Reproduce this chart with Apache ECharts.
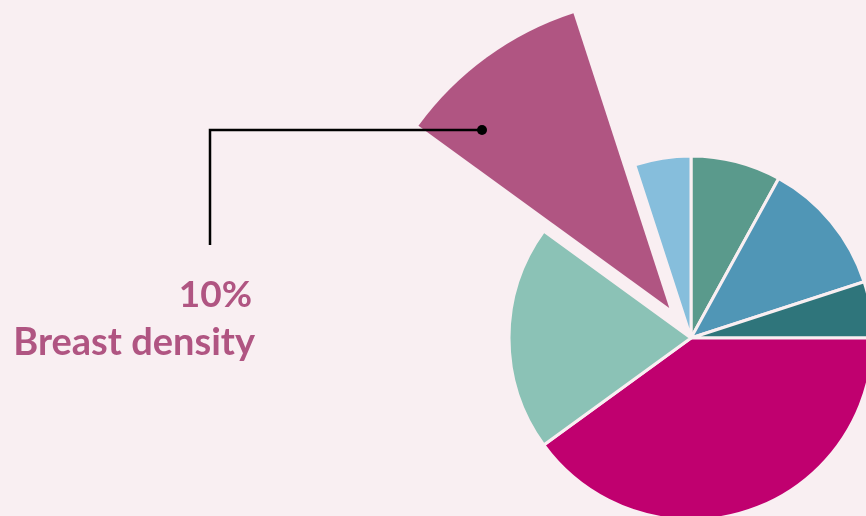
<!DOCTYPE html>
<html>
<head>
<meta charset="utf-8">
<script src="https://cdn.jsdelivr.net/npm/echarts@6/dist/echarts.min.js"></script>
<style>
html,body{margin:0;padding:0;background:#f9eff2;}
#c{width:866px;height:516px;}
</style>
</head>
<body>
<div id="c"></div>
<script>
// Data
const categories = ['Factor A', 'Factor B', 'Factor C', 'Factor D', 'Factor E', 'Breast density', 'Factor G'];
const values = [8, 12, 5, 40, 20, 10, 5];
const colors = ['#5a9a8c', '#5096b6', '#2f757b', '#c0006f', '#8bc2b6', '#b05582', '#86bedc'];
const highlightIndex = 5;

const bg = '#f9eff2';
const chart = echarts.init(document.getElementById('c'), null, {renderer: 'canvas'});

const baseData = categories.map((name, i) => ({
  name,
  value: values[i],
  itemStyle: i === highlightIndex
    ? {color: 'rgba(0,0,0,0)', borderWidth: 0}
    : {color: colors[i], borderColor: bg, borderWidth: 3}
}));

const topData = categories.map((name, i) => ({
  name,
  value: values[i],
  selected: i === highlightIndex,
  itemStyle: i === highlightIndex
    ? {color: colors[i], borderWidth: 0}
    : {color: 'rgba(0,0,0,0)', borderWidth: 0}
}));

const hv = values[highlightIndex];
const hn = categories[highlightIndex];

chart.setOption({
  backgroundColor: bg,
  animation: false,
  series: [
    {
      type: 'pie',
      center: [691, 338],
      radius: 182,
      startAngle: 90,
      clockwise: true,
      silent: true,
      label: {show: false},
      labelLine: {show: false},
      data: baseData
    },
    {
      type: 'pie',
      center: [691, 338],
      radius: 310,
      startAngle: 90,
      clockwise: true,
      silent: true,
      selectedMode: 'single',
      selectedOffset: 37,
      label: {show: false},
      labelLine: {show: false},
      data: topData
    }
  ],
  graphic: [
    {type: 'polyline', shape: {points: [[482, 130], [210, 130], [210, 245]]},
     style: {stroke: '#000', lineWidth: 2.5, fill: null}, z: 100},
    {type: 'circle', shape: {cx: 482, cy: 130, r: 5}, style: {fill: '#000'}, z: 101},
    {type: 'text', x: 252, y: 295, z: 100,
     style: {text: hv + '%', fontFamily: 'Lato', fontWeight: 'bold', fontSize: 37,
             fill: '#b05582', align: 'right', verticalAlign: 'middle'}},
    {type: 'text', x: 255, y: 343, z: 100,
     style: {text: hn, fontFamily: 'Lato', fontWeight: 'bold', fontSize: 38,
             fill: '#b05582', align: 'right', verticalAlign: 'middle'}}
  ]
});
</script>
</body>
</html>
